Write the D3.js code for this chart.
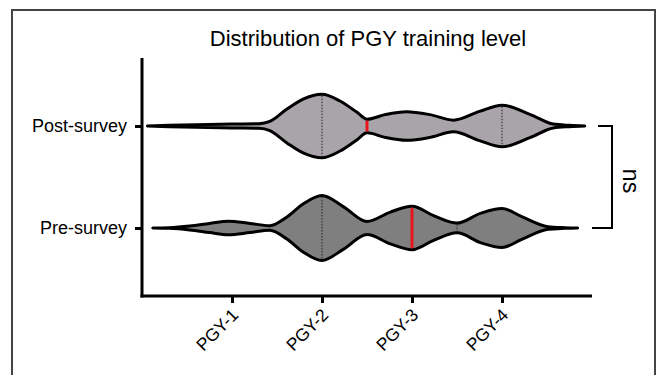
<!DOCTYPE html>
<html>
<head>
<meta charset="utf-8">
<script src="https://cdn.jsdelivr.net/npm/d3@7"></script>
<style>
  body { margin: 0; background: #fff; }
  svg { display: block; font-family: "Liberation Sans", Arial, Helvetica, sans-serif; }
</style>
</head>
<body>
<div class="chart"></div>
<script>
const width = 662;
const height = 375;

const groups = ["Post-survey", "Pre-survey"];
const tickValues = [1, 2, 3, 4];
const tickLabels = ["PGY-1", "PGY-2", "PGY-3", "PGY-4"];

// violin outlines: position on the PGY axis, relative density
const postPos  = [0.06, 0.3, 0.6, 1.0, 1.3, 1.42, 1.61, 1.79, 2.0, 2.2, 2.39, 2.5, 2.7, 2.94, 3.2, 3.46, 3.75, 4.0, 4.31, 4.57, 4.75, 4.92];
const postDens = [0, 0.02, 0.04, 0.06, 0.07, 0.14, 0.52, 0.83, 0.98, 0.77, 0.42, 0.21, 0.35, 0.44, 0.35, 0.18, 0.45, 0.64, 0.36, 0.06, 0.02, 0];
const prePos   = [0.12, 0.3, 0.53, 0.75, 0.96, 1.2, 1.42, 1.61, 1.79, 2.0, 2.24, 2.5, 2.76, 3.0, 3.24, 3.5, 3.76, 4.0, 4.22, 4.51, 4.7, 4.84];
const preDens  = [0, 0.01, 0.06, 0.14, 0.21, 0.14, 0.07, 0.34, 0.74, 1.0, 0.65, 0.2, 0.49, 0.67, 0.38, 0.15, 0.45, 0.6, 0.35, 0.04, 0.01, 0];

const medians = [2.5, 3];
const quartiles = [[2, 4], [2, 3.5]];
const fills = ["#a9a4aa", "#7f7f7f"];

const violins = [
  {name: groups[0], pos: postPos, dens: postDens, median: medians[0], q: quartiles[0], fill: fills[0]},
  {name: groups[1], pos: prePos, dens: preDens, median: medians[1], q: quartiles[1], fill: fills[1]}
];

let svg = d3.select(".chart").append("svg")
  .attr("width", width)
  .attr("height", height);

// frame
svg.append("rect")
  .attr("x", 12).attr("y", 10)
  .attr("width", 643).attr("height", 380)
  .attr("fill", "none")
  .attr("stroke", "#444")
  .attr("stroke-width", 2);

let x = d3.scaleLinear().domain([0, 5]).range([142, 592]);
let y = d3.scalePoint().domain(groups).range([58, 296]).padding(0.667);
let w = d3.scaleLinear().domain([0, 1]).range([0, 32.5]);

svg.append("text")
  .attr("x", 368).attr("y", 46)
  .attr("text-anchor", "middle")
  .style("font-size", "22px")
  .text("Distribution of PGY training level");

// violins
violins.forEach(v => {
  let cy = y(v.name);
  let pts = v.pos.map((p, i) => ({p: p, d: v.dens[i]}));
  let area = d3.area()
    .x(d => x(d.p))
    .y0(d => cy + w(d.d))
    .y1(d => cy - w(d.d))
    .curve(d3.curveMonotoneX);
  let g = svg.append("g").attr("class", "violin");
  g.append("path")
    .datum(pts)
    .attr("d", area)
    .attr("fill", v.fill)
    .attr("stroke", "#000")
    .attr("stroke-width", 3)
    .attr("stroke-linejoin", "round");

  let densAt = d3.scaleLinear().domain(v.pos).range(v.dens);
  g.selectAll(".quart")
    .data(v.q)
    .enter().append("line")
    .attr("class", "quart")
    .attr("x1", d => x(d)).attr("x2", d => x(d))
    .attr("y1", d => cy - w(densAt(d)) + 1.5)
    .attr("y2", d => cy + w(densAt(d)) - 1.5)
    .attr("stroke", "#222")
    .attr("stroke-width", 1)
    .attr("stroke-dasharray", "1.5,1.5");
  g.append("line")
    .attr("x1", x(v.median)).attr("x2", x(v.median))
    .attr("y1", cy - w(densAt(v.median)) + 1.5)
    .attr("y2", cy + w(densAt(v.median)) - 1.5)
    .attr("stroke", "#e8161b")
    .attr("stroke-width", 3);
});

// axes
let yAxis = d3.axisLeft(y).tickSize(7).tickSizeOuter(0).tickPadding(8);
let gY = svg.append("g")
  .attr("transform", "translate(" + x.range()[0] + ",0)")
  .call(yAxis);
gY.selectAll("path, line").attr("stroke", "#000").attr("stroke-width", 3);
gY.selectAll("text").style("font-size", "18px").attr("fill", "#000");

let xAxis = d3.axisBottom(x)
  .tickValues(tickValues)
  .tickFormat((d, i) => tickLabels[i])
  .tickSize(7)
  .tickSizeOuter(0);
let gX = svg.append("g")
  .attr("transform", "translate(0," + y.range()[1] + ")")
  .call(xAxis);
gX.select(".domain").attr("d", "M" + (x.range()[0] - 1.5) + ",0H" + x.range()[1]);
gX.selectAll("path, line").attr("stroke", "#000").attr("stroke-width", 3);
gX.selectAll("text")
  .attr("x", 0).attr("y", 0).attr("dy", 0)
  .attr("text-anchor", "end")
  .attr("transform", "translate(7,20) rotate(-45)")
  .style("font-size", "17.5px")
  .attr("fill", "#000");
gY.select(".domain").attr("d", "M0," + y.range()[0] + "V" + (y.range()[1] + 1.5));

// significance bracket
let yTop = y(groups[0]), yBot = y(groups[1]);
svg.append("path")
  .attr("d", "M598," + yTop + "H612V" + yBot + "H592")
  .attr("fill", "none")
  .attr("stroke", "#000")
  .attr("stroke-width", 2);
svg.append("text")
  .attr("transform", "translate(623," + ((yTop + yBot) / 2 + 4) + ") rotate(90)")
  .attr("text-anchor", "middle")
  .style("font-size", "23px")
  .text("ns");
</script>
</body>
</html>
